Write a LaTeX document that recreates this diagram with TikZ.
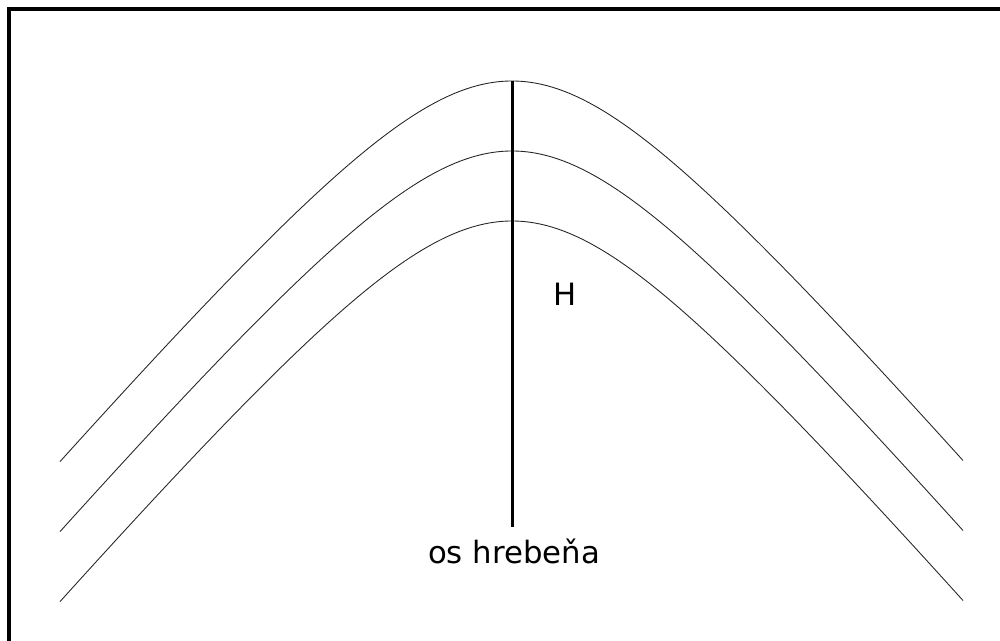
\documentclass[tikz,border=0pt]{standalone}
\usepackage{fontspec}
\setmainfont{DejaVu Sans}
\usetikzlibrary{positioning}

\tikzset{
	crestline/.style={line width=0.5pt, black!85},
	axisline/.style={line width=1.7pt, black},
	frameline/.style={line width=2.3pt, black},
	lbl/.style={font=\fontsize{17.5}{21}\selectfont}
}

\begin{document}
\begin{tikzpicture}[x=0.02cm, y=-0.02cm]
	\useasboundingbox (0,0) rectangle (1000,641);
	\draw[frameline] (9,660) -- (9,9) -- (1020,9);
	% three parallel crest lines
	\foreach \dy in {0,70,140}
		\draw[crestline, domain=60:963, samples=150, smooth, variable=\t]
			plot ({\t}, {81+\dy+175*(sqrt(1+((\t-512)/150)*((\t-512)/150))-1)});
	\coordinate (crest) at (512,81);
	\node[lbl, anchor=north, inner sep=6.5pt] (oslabel) at (514,527) {os hrebeňa};
	\draw[axisline] (crest) -- (crest |- oslabel.north);
	\node[lbl] (hlabel) at (565,294) {H};
\end{tikzpicture}
\end{document}
